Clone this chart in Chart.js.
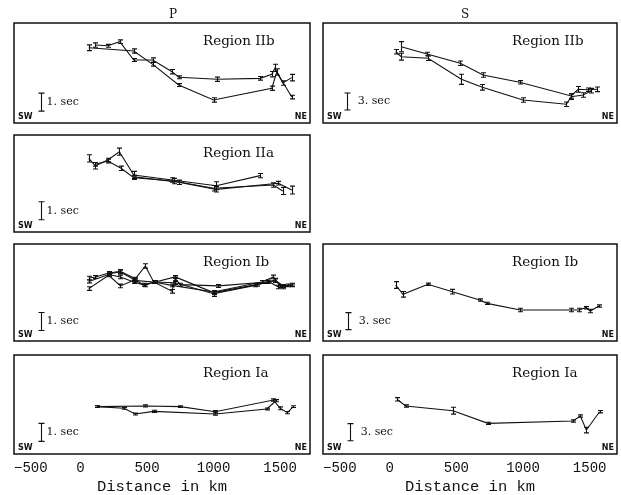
<!DOCTYPE html>
<html>
<head>
<meta charset="utf-8">
<script src="https://cdn.jsdelivr.net/npm/chart.js@4.4.0/dist/chart.umd.min.js"></script>
<style>
html, body { margin: 0; padding: 0; background: #fff; }
#wrap { position: relative; width: 621px; height: 495px; overflow: hidden; }
#wrap canvas { position: absolute; left: 0; top: 0; }
</style>
</head>
<body>
<div id="wrap"></div>
<script>
// distance along profile (km) and relative travel time (s, counted up from panel bottom)
var xTickValues = [-500, 0, 500, 1000, 1500];
var xTitle = 'Distance in km';

// P, Region IIb
var pIIbKmA  = [62, 400, 543, 738, 1000, 1438, 1475, 1588];
var pIIbSecA = [4.18, 4.00, 3.26, 2.11, 1.28, 1.93, 2.83, 1.44];
var pIIbErrA = [0.16, 0.12, 0.10, 0.08, 0.12, 0.12, 0.18, 0.10];
var pIIbKmB  = [112, 205, 295, 400, 543, 688, 738, 1025, 1350, 1438, 1462, 1520, 1588];
var pIIbSecB = [4.33, 4.29, 4.52, 3.50, 3.50, 2.85, 2.54, 2.43, 2.48, 2.71, 3.06, 2.22, 2.52];
var pIIbErrB = [0.12, 0.08, 0.10, 0.08, 0.12, 0.12, 0.08, 0.12, 0.10, 0.15, 0.20, 0.12, 0.18];

// P, Region IIa
var pIIaKmA  = [62, 112, 205, 292, 400, 688, 1020, 1350];
var pIIaSecA = [4.09, 3.68, 4.00, 4.46, 3.17, 2.89, 2.57, 3.13];
var pIIaErrA = [0.20, 0.18, 0.10, 0.20, 0.20, 0.12, 0.22, 0.12];
var pIIaKmB  = [112, 205, 305, 400, 700, 1000, 1450, 1520];
var pIIaSecB = [3.76, 3.94, 3.54, 3.02, 2.83, 2.43, 2.61, 2.28];
var pIIaErrB = [0.10, 0.10, 0.12, 0.10, 0.15, 0.15, 0.12, 0.20];
var pIIaKmC  = [400, 738, 1020, 1488, 1588];
var pIIaSecC = [3.07, 2.76, 2.37, 2.71, 2.33];
var pIIaErrC = [0.08, 0.12, 0.15, 0.10, 0.22];

// P, Region Ib
var pIbKmA  = [62, 112, 212, 300, 412, 487, 550, 687, 712, 750, 1037, 1400, 1462, 1525, 1587];
var pIbSecA = [3.50, 3.56, 3.78, 3.87, 3.46, 4.17, 3.28, 2.76, 3.46, 3.13, 3.06, 3.28, 3.37, 3.00, 3.09];
var pIbErrA = [0.10, 0.08, 0.08, 0.10, 0.08, 0.12, 0.08, 0.10, 0.15, 0.08, 0.08, 0.08, 0.12, 0.10, 0.08];
var pIbKmB  = [62, 212, 300, 400, 487, 550, 687, 1000, 1362, 1450, 1500, 1562];
var pIbSecB = [3.31, 3.69, 3.56, 3.28, 3.09, 3.28, 3.09, 2.72, 3.28, 3.56, 3.06, 3.09];
var pIbErrB = [0.08, 0.08, 0.10, 0.08, 0.08, 0.08, 0.08, 0.08, 0.08, 0.10, 0.08, 0.08];
var pIbKmC  = [62, 212, 300, 400, 550, 712, 1000, 1312, 1412, 1487, 1587];
var pIbSecC = [2.91, 3.65, 3.06, 3.37, 3.28, 3.24, 2.63, 3.09, 3.31, 3.00, 3.13];
var pIbErrC = [0.10, 0.08, 0.10, 0.08, 0.08, 0.10, 0.15, 0.08, 0.08, 0.10, 0.08];
var pIbKmD  = [212, 300, 412, 475, 562, 712, 1000, 1325, 1462, 1525];
var pIbSecD = [3.74, 3.83, 3.37, 3.13, 3.28, 3.56, 2.69, 3.13, 3.37, 3.06];
var pIbErrD = [0.08, 0.10, 0.08, 0.08, 0.08, 0.08, 0.10, 0.08, 0.08, 0.08];

// P, Region Ia
var pIaKmA  = [125, 487, 750, 1012, 1450, 1500, 1555, 1600];
var pIaSecA = [2.63, 2.67, 2.63, 2.35, 3.00, 2.54, 2.30, 2.63];
var pIaErrA = [0.05, 0.06, 0.05, 0.06, 0.06, 0.08, 0.06, 0.05];
var pIaKmB  = [125, 325, 412, 550, 1012, 1400, 1470];
var pIaSecB = [2.63, 2.54, 2.22, 2.37, 2.22, 2.50, 2.96];
var pIaErrB = [0.05, 0.05, 0.05, 0.06, 0.06, 0.05, 0.06];

// S, Region IIb
var sIIbKmA  = [87, 280, 530, 700, 975, 1362, 1413, 1488, 1555];
var sIIbSecA = [13.46, 12.17, 10.53, 8.47, 7.18, 4.76, 5.94, 5.87, 5.94];
var sIIbErrA = [0.9, 0.3, 0.4, 0.4, 0.3, 0.4, 0.5, 0.3, 0.4];
var sIIbKmB  = [45, 87, 288, 538, 695, 1000, 1325, 1362, 1450, 1513];
var sIIbSecB = [12.57, 11.69, 11.41, 7.71, 6.30, 4.06, 3.30, 4.64, 4.94, 5.70];
var sIIbErrB = [0.4, 0.6, 0.4, 0.9, 0.5, 0.4, 0.4, 0.5, 0.4, 0.4];

// S, Region Ib
var sIbKm  = [45, 100, 287, 470, 675, 730, 980, 1362, 1420, 1470, 1505, 1570];
var sIbSec = [9.88, 8.23, 10.00, 8.70, 7.23, 6.64, 5.47, 5.47, 5.47, 5.87, 5.29, 6.17];
var sIbErr = [0.6, 0.5, 0.2, 0.4, 0.2, 0.2, 0.3, 0.3, 0.3, 0.2, 0.3, 0.2];

// S, Region Ia
var sIaKm  = [55, 120, 475, 737, 1375, 1430, 1475, 1575];
var sIaSec = [9.65, 8.47, 7.64, 5.41, 5.82, 6.70, 4.23, 7.46];
var sIaErr = [0.3, 0.2, 0.6, 0.2, 0.2, 0.2, 0.5, 0.2];

// time scale bars: km position, centre (s), half length (s)
var pBarKm = -300, pBarCentre = [1.16, 1.18, 1.08, 1.20], pBarHalf = 0.5;
var sBarKm = [-322, -315, -300], sBarCentre = [3.8, 3.5, 3.85], sBarHalf = 1.5;

var panels = [
    { region: 'Region IIb', header: 'P', bar: '1. sec', box: [14, 23, 310, 123], xMax: 1725, pxPerSec: 18,
      barKm: pBarKm, barC: pBarCentre[0], barH: pBarHalf,
      series: [[pIIbKmA, pIIbSecA, pIIbErrA], [pIIbKmB, pIIbSecB, pIIbErrB]] },
    { region: 'Region IIa', bar: '1. sec', box: [14, 135, 310, 232], xMax: 1725, pxPerSec: 18,
      barKm: pBarKm, barC: pBarCentre[1], barH: pBarHalf,
      series: [[pIIaKmA, pIIaSecA, pIIaErrA], [pIIaKmB, pIIaSecB, pIIaErrB], [pIIaKmC, pIIaSecC, pIIaErrC]] },
    { region: 'Region Ib', bar: '1. sec', box: [14, 244, 310, 341], xMax: 1725, pxPerSec: 18,
      barKm: pBarKm, barC: pBarCentre[2], barH: pBarHalf,
      series: [[pIbKmA, pIbSecA, pIbErrA], [pIbKmB, pIbSecB, pIbErrB], [pIbKmC, pIbSecC, pIbErrC], [pIbKmD, pIbSecD, pIbErrD]] },
    { region: 'Region Ia', bar: '1. sec', box: [14, 355, 310, 454], xMax: 1725, pxPerSec: 18, axis: true,
      barKm: pBarKm, barC: pBarCentre[3], barH: pBarHalf,
      series: [[pIaKmA, pIaSecA, pIaErrA], [pIaKmB, pIaSecB, pIaErrB]] },
    { region: 'Region IIb', header: 'S', bar: '3. sec', box: [323, 23, 617, 123], xMax: 1705, pxPerSec: 5.67,
      barKm: sBarKm[0], barC: sBarCentre[0], barH: sBarHalf,
      series: [[sIIbKmA, sIIbSecA, sIIbErrA], [sIIbKmB, sIIbSecB, sIIbErrB]] },
    { region: 'Region Ib', bar: '3. sec', box: [323, 244, 617, 341], xMax: 1705, pxPerSec: 5.67,
      barKm: sBarKm[1], barC: sBarCentre[1], barH: sBarHalf,
      series: [[sIbKm, sIbSec, sIbErr]] },
    { region: 'Region Ia', bar: '3. sec', box: [323, 355, 617, 454], xMax: 1705, pxPerSec: 5.67, axis: true,
      barKm: sBarKm[2], barC: sBarCentre[2], barH: sBarHalf,
      series: [[sIaKm, sIaSec, sIaErr]] }
];

var panelDeco = {
    id: 'panelDeco',
    afterDatasetsDraw: function(chart, args, o) {
        var ctx = chart.ctx, a = chart.chartArea;
        var xs = chart.scales.x, ys = chart.scales.y;
        ctx.save();
        ctx.strokeStyle = '#111';
        ctx.lineWidth = 1.1;
        // error bars (and the time scale bar, which is a one point dataset)
        chart.data.datasets.forEach(function(ds) {
            ds.errs.forEach(function(e, i) {
                var pt = ds.data[i];
                var px = Math.round(xs.getPixelForValue(pt.x)) + 0.5;
                var y1 = ys.getPixelForValue(pt.y - e), y2 = ys.getPixelForValue(pt.y + e);
                var w = ds.capW;
                ctx.beginPath();
                ctx.moveTo(px, y1); ctx.lineTo(px, y2);
                ctx.moveTo(px - w, y1); ctx.lineTo(px + w, y1);
                ctx.moveTo(px - w, y2); ctx.lineTo(px + w, y2);
                ctx.stroke();
            });
        });
        // frame
        ctx.lineWidth = 1.5;
        ctx.strokeRect(a.left, a.top, a.right - a.left, a.bottom - a.top);
        ctx.fillStyle = '#111';
        // region name
        ctx.font = '13.5px "DejaVu Serif"';
        ctx.textAlign = 'left';
        ctx.textBaseline = 'middle';
        ctx.fillText(o.region, a.left + 189, a.top + 18);
        // scale bar label
        ctx.font = '11px "DejaVu Serif"';
        var bx = xs.getPixelForValue(o.barKm), by = ys.getPixelForValue(o.barC);
        ctx.fillText(o.bar, bx + (o.bar === '1. sec' ? 6 : 11), by);
        // SW / NE
        ctx.font = 'bold 8px "DejaVu Sans"';
        ctx.textBaseline = 'bottom';
        ctx.fillText('SW', a.left + 4, a.bottom - 2);
        ctx.textAlign = 'right';
        ctx.fillText('NE', a.right - 3, a.bottom - 2);
        // column header
        if (o.header) {
            ctx.font = '12px "DejaVu Serif"';
            ctx.textAlign = 'center';
            ctx.textBaseline = 'middle';
            ctx.fillText(o.header, a.left + (o.header === 'P' ? 159 : 142), 15);
        }
        ctx.restore();
    }
};

var wrap = document.getElementById('wrap');
var charts = panels.map(function(p) {
    var canvas = document.createElement('canvas');
    canvas.width = 621;
    canvas.height = 495;
    wrap.appendChild(canvas);
    var h = p.box[3] - p.box[1];
    var datasets = p.series.map(function(s) {
        return {
            data: s[0].map(function(km, i) { return { x: km, y: s[1][i] }; }),
            errs: s[2],
            capW: 2.5,
            borderColor: '#111',
            borderWidth: 1.1,
            pointRadius: 0,
            tension: 0,
            fill: false
        };
    });
    datasets.push({
        data: [{ x: p.barKm, y: p.barC }],
        errs: [p.barH],
        capW: 3,
        showLine: false,
        pointRadius: 0
    });
    return new Chart(canvas, {
        type: 'line',
        data: { datasets: datasets },
        options: {
            responsive: false,
            animation: false,
            events: [],
            layout: {
                padding: { left: p.box[0], top: p.box[1], right: 621 - p.box[2], bottom: p.axis ? 0 : 495 - p.box[3] }
            },
            plugins: {
                legend: { display: false },
                tooltip: { enabled: false },
                panelDeco: { region: p.region, bar: p.bar, header: p.header, barKm: p.barKm, barC: p.barC }
            },
            scales: {
                x: {
                    type: 'linear',
                    min: -500,
                    max: p.xMax,
                    display: !!p.axis,
                    grid: { display: false, drawTicks: false },
                    border: { display: false },
                    afterBuildTicks: function(scale) {
                        // labelled ticks, plus an unlabelled one at the right edge so 'inner' only shifts the first label
                        scale.ticks = xTickValues.concat([p.xMax]).map(function(v) { return { value: v }; });
                    },
                    afterFit: function(scale) {
                        scale.paddingLeft = 0;
                        scale.paddingRight = 0;
                        scale.paddingTop = 0;
                        scale.paddingBottom = 0;
                        if (p.axis) scale.height = 495 - p.box[3];
                    },
                    ticks: {
                        autoSkip: false,
                        maxRotation: 0,
                        align: 'inner',
                        padding: 6,
                        color: '#111',
                        font: { family: 'Liberation Mono', size: 14 },
                        callback: function(value) {
                            if (xTickValues.indexOf(value) < 0) return '';
                            return value < 0 ? '\u2212' + Math.abs(value) : String(value);
                        }
                    },
                    title: {
                        display: true,
                        text: xTitle,
                        color: '#111',
                        font: { family: 'Liberation Mono', size: 15.5 },
                        padding: { top: 0, bottom: -1 }
                    }
                },
                y: {
                    min: 0,
                    max: h / p.pxPerSec,
                    display: false
                }
            }
        },
        plugins: [panelDeco]
    });
});
</script>
</body>
</html>
